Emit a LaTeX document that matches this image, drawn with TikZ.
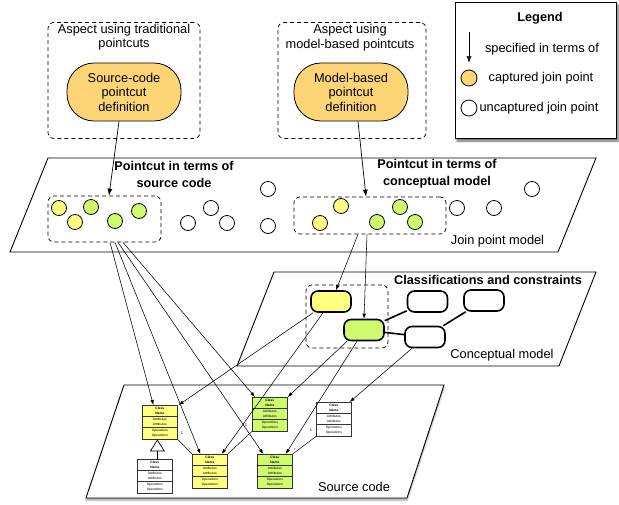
\documentclass[tikz,border=0pt]{standalone}
\usepackage{fontspec}
\setmainfont{Liberation Sans}
\usetikzlibrary{arrows.meta,shapes.multipart,shadows,shadows.blur,calc}
\definecolor{corange}{RGB}{253,213,118}
\definecolor{cyellow}{RGB}{255,255,128}
\definecolor{cgreen}{RGB}{208,250,110}
\newcommand{\umlclass}[4]{%
  \node[umlcls, fill=#4, anchor=north west] (#1) at (#2,#3)
  {\textbf{Class}\\\textbf{Name}\nodepart{two}Attributes\\Attributes\nodepart{three}Operations\\Operations};}
\begin{document}
\begin{tikzpicture}[x=1pt,y=-1pt,
  lbl/.style={font=\fontsize{12.8}{14.5}\selectfont, align=center, inner sep=0pt},
  boldlbl/.style={font=\bfseries\fontsize{12.7}{17}\selectfont, align=center, inner sep=0pt},
  dashbox/.style={draw, dash pattern=on 4pt off 3pt, rounded corners=6pt, line width=0.7pt},
  stadium/.style={draw, fill=corange, rounded corners=27pt, line width=0.8pt, align=center,
    minimum width=114pt, minimum height=58pt, inner sep=0pt, font=\fontsize{12.8}{14.5}\selectfont},
  jp/.style={circle, draw, line width=0.8pt, minimum size=15pt, inner sep=0pt},
  cmnode/.style={draw, line width=1.6pt, rounded corners=7pt, minimum width=40pt, minimum height=21pt, inner sep=0pt},
  plane/.style={draw, line width=0.9pt, fill=white},
  umlcls/.style={rectangle split, rectangle split parts=3, draw=black!80, line width=0.7pt,
    font=\fontsize{3.3}{5.3}\selectfont, text width=34pt, align=center, inner xsep=0.5pt, inner ysep=1.3pt},
  conn/.style={line width=0.55pt, -{Latex[length=5pt,width=3.6pt]}},
  bigarrow/.style={line width=0.7pt, -{Latex[length=7pt,width=5pt]}},
  assoc/.style={line width=0.5pt},
  cmlink/.style={line width=1.6pt},
  tiny/.style={font=\fontsize{4}{4}\selectfont, inner sep=0pt}
]
\useasboundingbox (0,0) rectangle (619,504);

% ---------- planes ----------
\draw[plane] (48,158) -- (596,158) -- (558,252) -- (10,252) -- cycle;
\draw[plane] (274,272) -- (596,272) -- (559,366) -- (237,366) -- cycle;
\draw[plane, blur shadow={shadow xshift=0pt, shadow yshift=-2pt, shadow blur steps=5, shadow opacity=40}] (124,385) -- (444,385) -- (407,498) -- (86,498) -- cycle;

% ---------- aspects ----------
\node[dashbox, minimum width=152pt, minimum height=116pt] (asp1) at (124,80.5) {};
\node[lbl] (asp1t) at (124,37) {Aspect using traditional\\pointcuts};
\node[stadium] (src) at (124,92) {Source-code\\pointcut\\definition};
\node[dashbox, minimum width=148pt, minimum height=116pt] (asp2) at (352,80.5) {};
\node[lbl] (asp2t) at (350,37.5) {Aspect using\\model-based pointcuts};
\node[stadium] (mb) at (351,92) {Model-based\\pointcut\\definition};

% ---------- legend ----------
\node[draw, fill=white, line width=0.8pt, minimum width=161pt, minimum height=136pt,
  blur shadow={shadow xshift=2pt, shadow yshift=-3pt, shadow blur steps=6, shadow opacity=60}] (leg) at (535.5,70) {};
\node[boldlbl] (legt) at (540,18) {Legend};
\coordinate (la1) at (469,32);
\coordinate (la2) at (469,63);
\draw[bigarrow] (la1) -- (la2);
\node[lbl] (lt1) at (542,49) {specified in terms of};
\node[jp, fill=corange, minimum size=16pt] (lc1) at (469,78) {};
\node[lbl] (lt2) at (541,78) {captured join point};
\node[jp, minimum size=16pt] (lc2) at (469,108) {};
\node[lbl] (lt3) at (539,108) {uncaptured join point};

% ---------- join point model ----------
\node[boldlbl] (pc1) at (174,174) {Pointcut in terms of\\source code};
\node[boldlbl] (pc2) at (437,174) {Pointcut in terms of\\conceptual model};
\node[lbl] (jpml) at (497.5,241) {Join point model};
\node[dashbox, minimum width=113pt, minimum height=46pt] (jpL) at (104.5,219) {};
\node[dashbox, minimum width=152pt, minimum height=37pt] (jpR) at (370,215.5) {};
\node[jp, fill=cyellow] (l1) at (59,208) {};
\node[jp, fill=cyellow] (l2) at (75,222) {};
\node[jp, fill=cgreen] (l3) at (91,207) {};
\node[jp, fill=cgreen] (l4) at (115,221) {};
\node[jp, fill=cgreen] (l5) at (139,211) {};
\node[jp] (u1) at (188,223) {};
\node[jp] (u2) at (211,208) {};
\node[jp] (u3) at (227,223) {};
\node[jp] (u4) at (268,189) {};
\node[jp] (u5) at (268,226) {};
\node[jp, fill=cyellow] (r1) at (341,206) {};
\node[jp, fill=cyellow] (r2) at (320,223) {};
\node[jp, fill=cgreen] (r3) at (400,207) {};
\node[jp, fill=cgreen] (r4) at (377,222) {};
\node[jp, fill=cgreen] (r5) at (415,222) {};
\node[jp] (u6) at (457,208) {};
\node[jp] (u7) at (494,208) {};
\node[jp] (u8) at (532,189) {};

% ---------- conceptual model ----------
\node[boldlbl] (cct) at (488,280) {Classifications and constraints};
\node[lbl] (cml) at (502,355) {Conceptual model};
\node[dashbox, minimum width=82pt, minimum height=63pt] (cmbox) at (347,316.5) {};
\node[cmnode, fill=cyellow] (cy) at (331,301.5) {};
\node[cmnode, fill=cgreen] (cg) at (364,330) {};
\node[cmnode, fill=white] (w1) at (427.5,301.5) {};
\node[cmnode, fill=white] (w2) at (484,300.5) {};
\node[cmnode, fill=white] (w3) at (425,337) {};
\draw[cmlink] (cg) -- (w1);
\draw[cmlink] (cg) -- (w3);
\draw[cmlink] (w3) -- (w2);

% ---------- source code ----------
\node[lbl] (scl) at (354,487) {Source code};
\umlclass{A}{142}{405}{cyellow}
\umlclass{B}{192}{454}{cyellow}
\umlclass{C}{252}{397}{cgreen}
\umlclass{D}{257}{454}{cgreen}
\umlclass{E}{316}{402}{white}
\umlclass{F}{137}{459}{white}
\draw[line width=0.7pt, -{Triangle[open,length=12pt,width=15pt]}] ($(F.north)+(2.5,0)$) -- ($(A.south)+(-2.5,0)$);
\draw[assoc] (A.south east) -- (B.north west);
\draw[assoc] (C.south west) -- (B.north east);
\draw[assoc] (E.south west) -- (D.north east);
\node[tiny] (m1) at (182,433) {1};
\node[tiny] (m2) at (246,425) {1};
\node[tiny] (m3) at (311,430) {1};
\node[tiny] (s1) at (190,450) {*};
\node[tiny] (s2) at (295,450) {*};

% ---------- connectors ----------
\draw[bigarrow] ($(src.south)+(-5,0)$) -- ($(jpL.north)+(4.5,0)$);
\draw[bigarrow] ($(mb.south)+(7,0)$) -- ($(jpR.north)+(-4,0)$);
\draw[conn] ($(jpL.south)+(5.5,0)$) -- ($(A.north)+(-6.5,0)$);
\draw[conn] ($(jpL.south)+(10.5,0)$) -- ($(B.north)+(-9.5,0)$);
\draw[conn] ($(jpL.south)+(13.5,0)$) -- ($(D.north)+(-11.5,0)$);
\draw[conn] ($(jpL.south)+(18.5,0)$) -- ($(C.north west)+(3,0)$);
\draw[conn] ($(jpR.south)+(-12,0)$) -- ($(cy.north)+(5,0)$);
\draw[conn] ($(jpR.south)+(-3,0)$) -- (cg.north);
\draw[conn] ($(cy.south)+(-18,0)$) -- ($(A.north east)+(1,0)$);
\draw[conn] ($(cy.south)+(-8,0)$) -- ($(B.north east)+(-6,0)$);
\draw[conn] ($(cg.south)+(-17,0)$) -- (C.north east);
\draw[conn] ($(cg.south)+(-7,0)$) -- ($(D.north east)+(-7,0)$);
\draw[conn] ($(w3.south)+(-13,0)$) -- ($(E.north east)+(-2,0)$);
\end{tikzpicture}
\end{document}
